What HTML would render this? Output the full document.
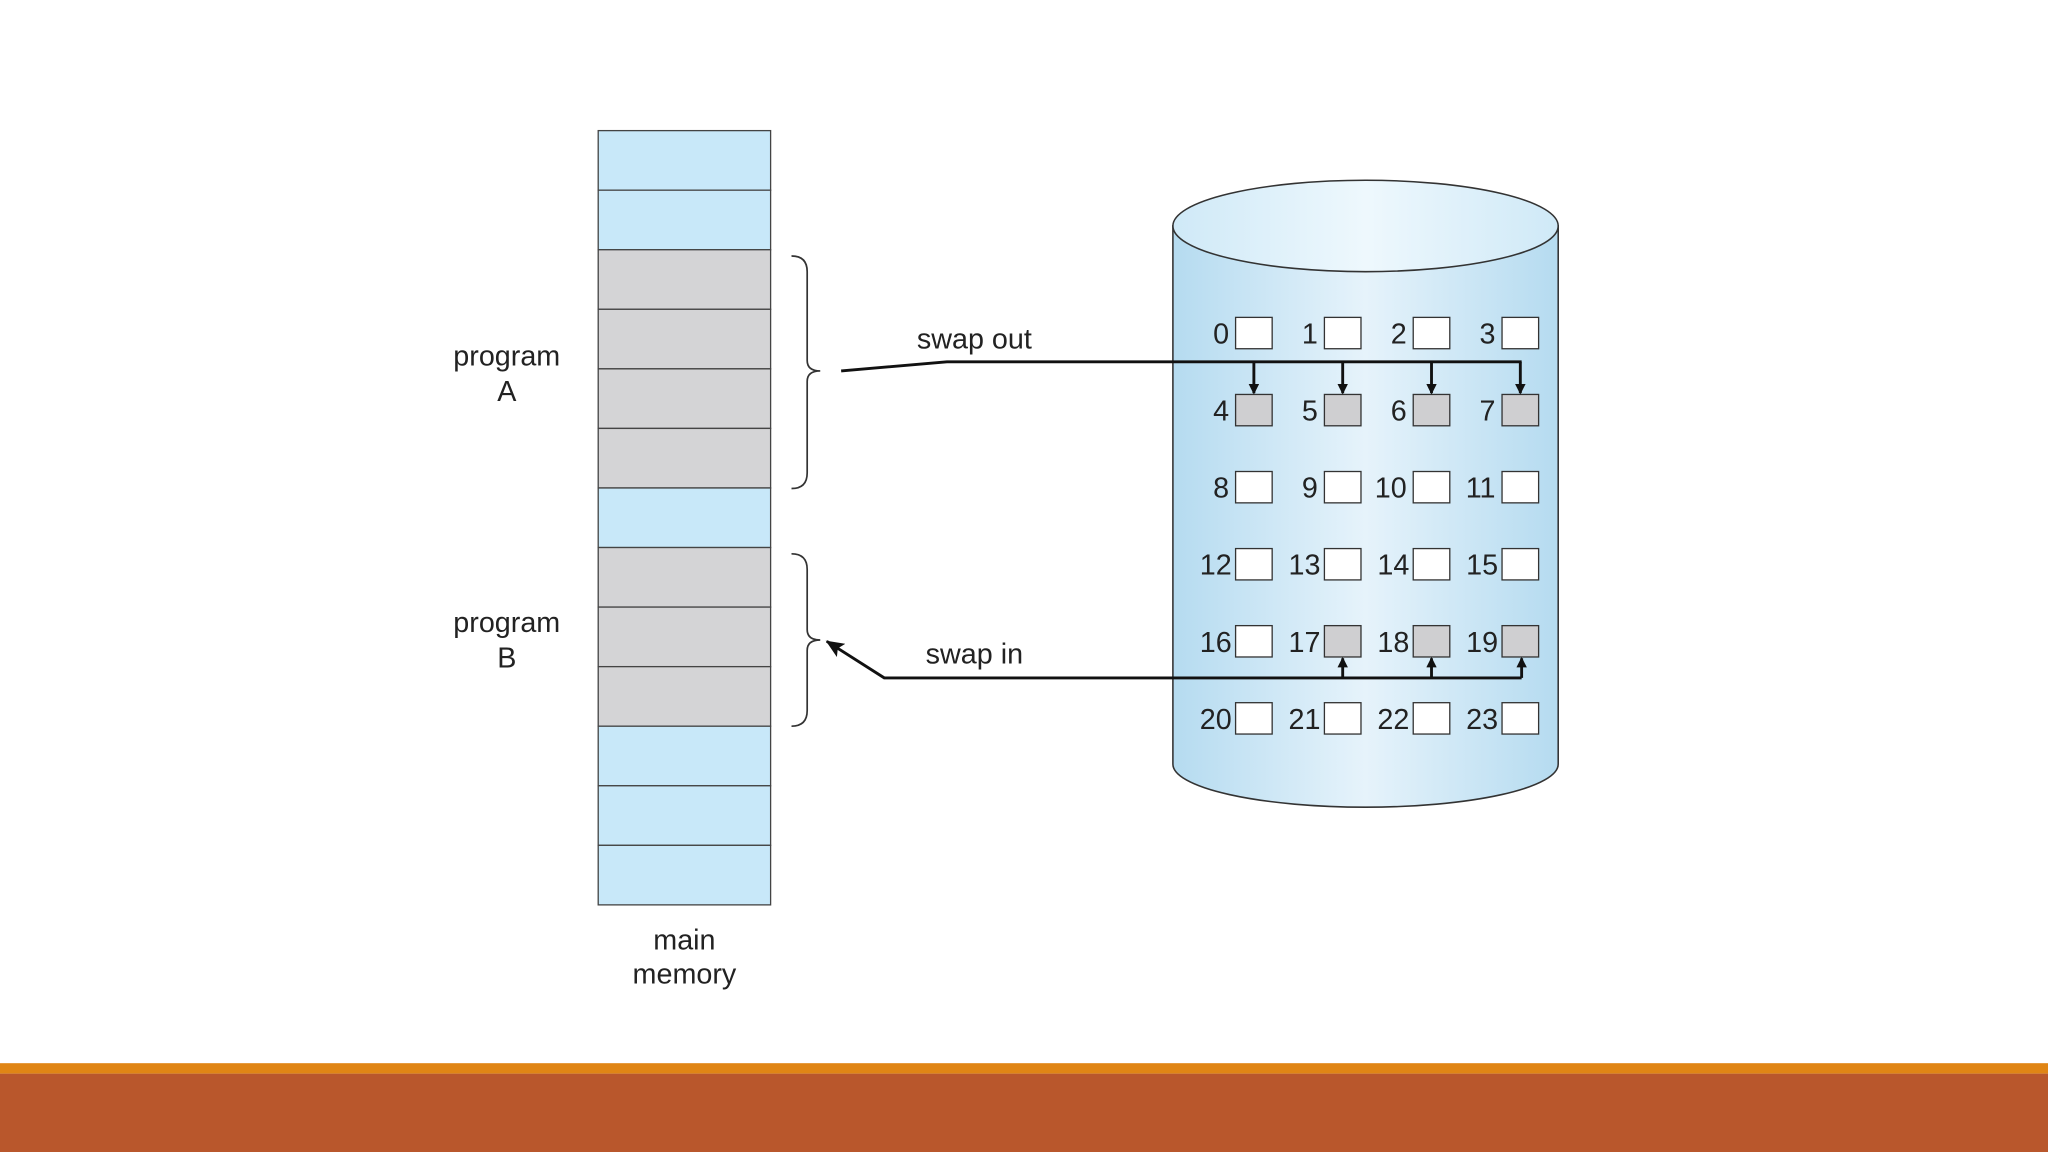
<!DOCTYPE html>
<html><head><meta charset="utf-8"><style>
html,body{margin:0;padding:0;background:#fff;}
svg{display:block;}
text{font-family:"Liberation Sans",Arial,sans-serif;fill:#222;}
</style></head><body>
<svg width="2048" height="1152" viewBox="0 0 1568 882" xmlns="http://www.w3.org/2000/svg">
<defs>
<linearGradient id="cyl" x1="0" x2="1" y1="0" y2="0">
<stop offset="0" stop-color="#b5dbf0"/>
<stop offset="0.5" stop-color="#e6f3fb"/>
<stop offset="1" stop-color="#b5dbf0"/>
</linearGradient>
<linearGradient id="top" x1="0" x2="1">
<stop offset="0" stop-color="#cfe9f7"/>
<stop offset="0.5" stop-color="#eef8fd"/>
<stop offset="1" stop-color="#cfe9f7"/>
</linearGradient>
<marker id="ah" markerWidth="8" markerHeight="8" refX="7" refY="4" orient="auto" markerUnits="userSpaceOnUse">
<path d="M0,0 L8,4 L0,8 Z" fill="#111"/>
</marker>
<marker id="ah2" markerWidth="14" markerHeight="12" refX="13" refY="6" orient="auto" markerUnits="userSpaceOnUse">
<path d="M0,0 L14,6 L0,12 L3,6 Z" fill="#111"/>
</marker>
</defs>
<rect width="1568" height="882" fill="#fff"/>
<!-- memory -->
<g stroke="#444" stroke-width="1">
<rect x="458" y="100" width="132" height="45.6" fill="#c8e8f9"/>
<rect x="458" y="145.6" width="132" height="45.6" fill="#c8e8f9"/>
<rect x="458" y="191.2" width="132" height="45.6" fill="#d4d4d6"/>
<rect x="458" y="236.8" width="132" height="45.6" fill="#d4d4d6"/>
<rect x="458" y="282.4" width="132" height="45.6" fill="#d4d4d6"/>
<rect x="458" y="328" width="132" height="45.6" fill="#d4d4d6"/>
<rect x="458" y="373.6" width="132" height="45.6" fill="#c8e8f9"/>
<rect x="458" y="419.2" width="132" height="45.6" fill="#d4d4d6"/>
<rect x="458" y="464.8" width="132" height="45.6" fill="#d4d4d6"/>
<rect x="458" y="510.4" width="132" height="45.6" fill="#d4d4d6"/>
<rect x="458" y="556" width="132" height="45.6" fill="#c8e8f9"/>
<rect x="458" y="601.6" width="132" height="45.6" fill="#c8e8f9"/>
<rect x="458" y="647.2" width="132" height="45.6" fill="#c8e8f9"/>
</g>
<g font-size="22" text-anchor="middle">
<text x="388" y="280">program</text><text x="388" y="307">A</text>
<text x="388" y="484">program</text><text x="388" y="511">B</text>
<text x="524" y="727">main</text><text x="524" y="753">memory</text>
</g>
<!-- braces -->
<g fill="none" stroke="#333" stroke-width="1.3">
<path d="M606,196 Q618,196 618,208 L618,276 Q618,284 628,284 Q618,284 618,292 L618,362 Q618,374 606,374"/>
<path d="M606,424 Q618,424 618,436 L618,482 Q618,490 628,490 Q618,490 618,498 L618,544 Q618,556 606,556"/>
</g>
<!-- cylinder -->
<path d="M898,173 L898,585 A147.5,33 0 0 0 1193,585 L1193,173 Z" fill="url(#cyl)" stroke="#333" stroke-width="1.2"/>
<ellipse cx="1045.5" cy="173" rx="147.5" ry="35" fill="url(#top)" stroke="#333" stroke-width="1.2"/>
<!-- grid -->
<g font-size="22" text-anchor="end">
<g id="r0"><text x="941" y="263">0</text><text x="1009" y="263">1</text><text x="1077" y="263">2</text><text x="1145" y="263">3</text></g>
<text x="941" y="322">4</text><text x="1009" y="322">5</text><text x="1077" y="322">6</text><text x="1145" y="322">7</text>
<text x="941" y="381">8</text><text x="1009" y="381">9</text><text x="1077" y="381">10</text><text x="1145" y="381">11</text>
<text x="943" y="440">12</text><text x="1011" y="440">13</text><text x="1079" y="440">14</text><text x="1147" y="440">15</text>
<text x="943" y="499">16</text><text x="1011" y="499">17</text><text x="1079" y="499">18</text><text x="1147" y="499">19</text>
<text x="943" y="558">20</text><text x="1011" y="558">21</text><text x="1079" y="558">22</text><text x="1147" y="558">23</text>
</g>
<g stroke="#333" stroke-width="1">
<g fill="#fff">
<rect x="946" y="243" width="28" height="24"/><rect x="1014" y="243" width="28" height="24"/><rect x="1082" y="243" width="28" height="24"/><rect x="1150" y="243" width="28" height="24"/>
<rect x="946" y="361" width="28" height="24"/><rect x="1014" y="361" width="28" height="24"/><rect x="1082" y="361" width="28" height="24"/><rect x="1150" y="361" width="28" height="24"/>
<rect x="946" y="420" width="28" height="24"/><rect x="1014" y="420" width="28" height="24"/><rect x="1082" y="420" width="28" height="24"/><rect x="1150" y="420" width="28" height="24"/>
<rect x="946" y="479" width="28" height="24"/>
<rect x="946" y="538" width="28" height="24"/><rect x="1014" y="538" width="28" height="24"/><rect x="1082" y="538" width="28" height="24"/><rect x="1150" y="538" width="28" height="24"/>
</g>
<g fill="#cfcfd1">
<rect x="946" y="302" width="28" height="24"/><rect x="1014" y="302" width="28" height="24"/><rect x="1082" y="302" width="28" height="24"/><rect x="1150" y="302" width="28" height="24"/>
<rect x="1014" y="479" width="28" height="24"/><rect x="1082" y="479" width="28" height="24"/><rect x="1150" y="479" width="28" height="24"/>
</g>
</g>
<!-- swap out -->
<g fill="none" stroke="#111" stroke-width="2.2">
<path d="M644,284 L725,277 L1165,277"/>
<path d="M960,277 L960,301" marker-end="url(#ah)"/>
<path d="M1028,277 L1028,301" marker-end="url(#ah)"/>
<path d="M1096,277 L1096,301" marker-end="url(#ah)"/>
<path d="M1164,277 L1164,301" marker-end="url(#ah)"/>
<path d="M1165,519 L677,519 L633,491" marker-end="url(#ah2)"/>
<path d="M1028,519 L1028,504" marker-end="url(#ah)"/>
<path d="M1096,519 L1096,504" marker-end="url(#ah)"/>
<path d="M1165,519 L1165,504" marker-end="url(#ah)"/>
</g>
<g font-size="22" text-anchor="middle">
<text x="746" y="267">swap out</text>
<text x="746" y="508">swap in</text>
</g>
<!-- footer -->
<rect x="0" y="814" width="1568" height="8" fill="#e08515"/>
<rect x="0" y="822" width="1568" height="60" fill="#b9572c"/>
</svg>
</body></html>
